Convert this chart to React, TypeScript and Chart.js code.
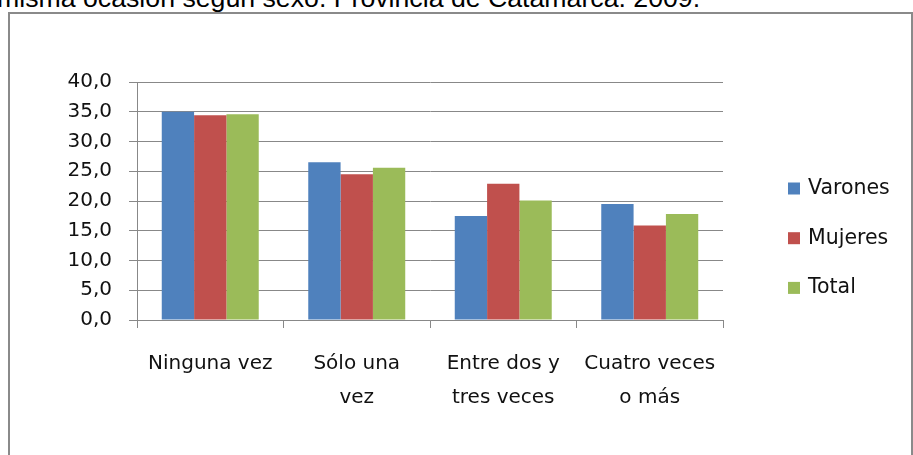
import React, { useEffect, useRef } from "react";
import { Chart, registerables } from "chart.js";

Chart.register(...registerables);

const categories: string[][] = [
  ["Ninguna vez"],
  ["Sólo una", "vez"],
  ["Entre dos y", "tres veces"],
  ["Cuatro veces", "o más"],
];
const seriesNames = ["Varones", "Mujeres", "Total"];
const varones = [35.0, 26.5, 17.5, 19.5];
const mujeres = [34.4, 24.5, 22.9, 15.9];
const total = [34.6, 25.6, 20.1, 17.8];
const seriesColors = ["#4F81BD", "#C0504D", "#9BBB59"];
const yMin = 0;
const yMax = 40;
const yStep = 5;
const titleText = "misma ocasión según sexo. Provincia de Catamarca. 2009.";

const FONT = "'DejaVu Sans', sans-serif";
const GRID = "#888888";
const TEXT = "#111111";

const sideLegend = {
  id: "sideLegend",
  afterDraw(chart: any) {
    const ctx = chart.ctx;
    ctx.save();
    ctx.font = `20.5px ${FONT}`;
    ctx.textBaseline = "middle";
    ctx.textAlign = "left";
    chart.data.datasets.forEach((ds: any, i: number) => {
      const y = 188.5 + i * 49.7;
      ctx.fillStyle = ds.backgroundColor;
      ctx.fillRect(788, y - 6, 12, 12);
      ctx.fillStyle = TEXT;
      ctx.fillText(ds.label, 808, y);
    });
    ctx.restore();
  },
};

export default function App() {
  const ref = useRef<HTMLCanvasElement | null>(null);

  useEffect(() => {
    if (!ref.current) return;
    const seriesValues = [varones, mujeres, total];
    const chart = new Chart(ref.current, {
      type: "bar",
      data: {
        labels: categories,
        datasets: seriesNames.map((name, i) => ({
          label: name,
          data: seriesValues[i],
          backgroundColor: seriesColors[i],
          borderWidth: 0,
          categoryPercentage: 0.662,
          barPercentage: 1.0,
        })),
      },
      options: {
        animation: false,
        responsive: false,
        maintainAspectRatio: false,
        layout: { padding: { left: 0, top: 82, right: 190, bottom: 0 } },
        plugins: {
          legend: { display: false },
          tooltip: { enabled: false },
          title: { display: false },
        },
        scales: {
          x: {
            grid: {
              offset: true,
              drawOnChartArea: false,
              drawTicks: true,
              tickLength: 8,
              color: GRID,
            },
            border: { display: true, color: GRID },
            ticks: {
              font: { family: FONT, size: 20, lineHeight: 1.7 },
              color: TEXT,
              padding: 19,
              maxRotation: 0,
              autoSkip: false,
            },
            afterFit: (s: any) => {
              s.height = 135;
            },
          },
          y: {
            min: yMin,
            max: yMax,
            grid: { color: GRID, tickLength: 8, drawTicks: true },
            border: { display: true, color: GRID },
            ticks: {
              stepSize: yStep,
              font: { family: FONT, size: 20 },
              color: TEXT,
              padding: 17,
              callback: (v: any) => Number(v).toFixed(1).replace(".", ","),
            },
            afterFit: (s: any) => {
              s.width = 137;
            },
          },
        },
      },
      plugins: [sideLegend],
    });
    return () => chart.destroy();
  }, []);

  return (
    <div
      style={{
        position: "fixed",
        left: 0,
        top: 0,
        width: 913,
        height: 455,
        overflow: "hidden",
        background: "#fff",
      }}
    >
      <div
        style={{
          position: "absolute",
          left: -3,
          top: -15.4,
          fontFamily: "'Liberation Sans', Arial, sans-serif",
          fontSize: 26.7,
          lineHeight: 1,
          whiteSpace: "nowrap",
          color: "#000",
        }}
      >
        {titleText}
      </div>
      <div
        style={{
          position: "absolute",
          left: 8,
          top: 12,
          width: 905,
          height: 500,
          border: "2px solid #8a8a8a",
          boxSizing: "border-box",
        }}
      />
      <canvas
        ref={ref}
        width={913}
        height={455}
        style={{ position: "absolute", left: 0, top: 0, width: 913, height: 455 }}
      />
    </div>
  );
}
